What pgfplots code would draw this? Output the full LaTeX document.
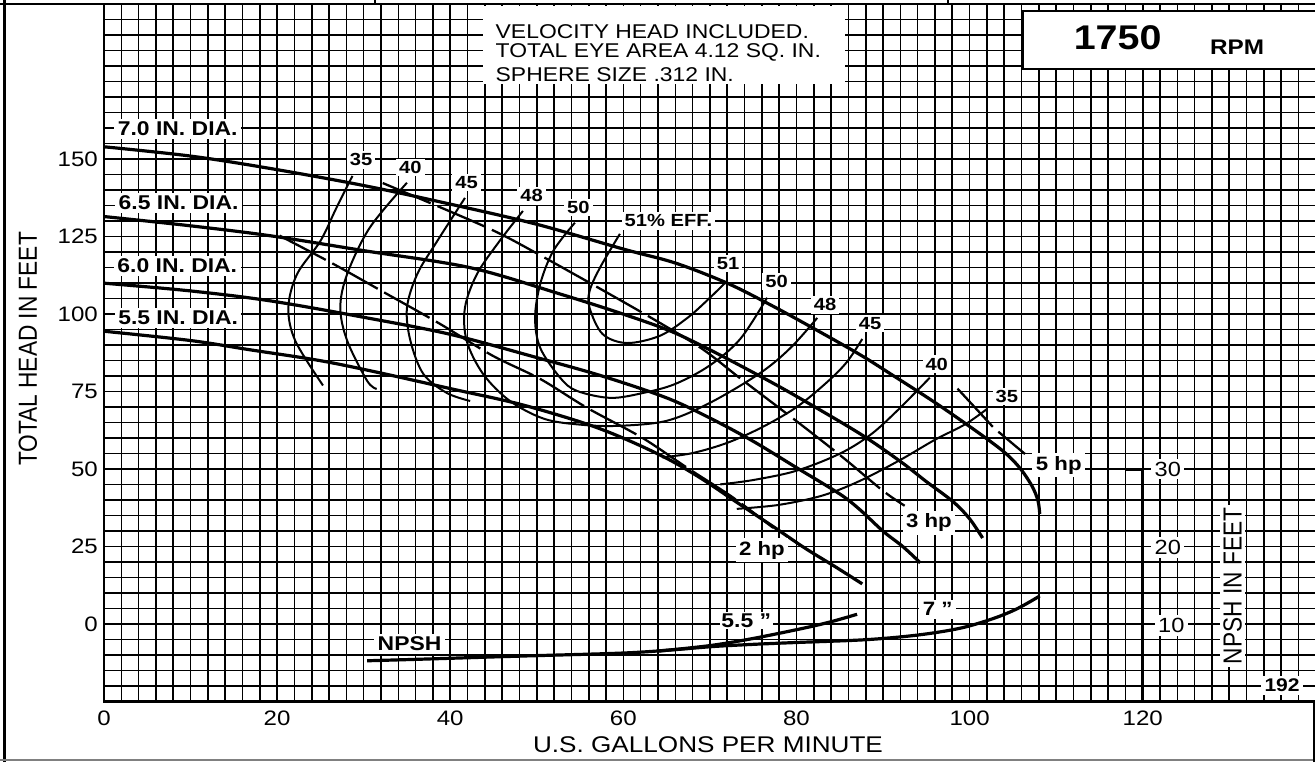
\documentclass[border=0pt]{standalone}
\usepackage{fontspec}
\setmainfont{Liberation Sans}
\usepackage{pgfplots}
\pgfplotsset{compat=1.18}
\tikzset{
  dia/.style={font=\bfseries\fontsize{10}{12}\selectfont, fill=white, inner sep=1.5bp, xscale=1.15},
  ef/.style={font=\bfseries\fontsize{8.8}{10}\selectfont, fill=white, inner sep=1.3bp, xscale=1.15},
  hp/.style={font=\bfseries\fontsize{9.7}{11}\selectfont, fill=white, inner sep=1.5bp, xscale=1.15},
  nt/.style={font=\fontsize{10.3}{12}\selectfont, fill=white, inner sep=1.5bp, xscale=1.15},
  head/.style={line width=1.6bp, smooth, tension=0.55},
  eff/.style={line width=1bp, smooth, tension=0.55},
  hpl/.style={line width=1.15bp, dash pattern=on 26bp off 3.7bp},
}
\begin{document}
\begin{tikzpicture}[x=0.5bp,y=0.5bp]
\useasboundingbox (0,0) rectangle (1315,762);
\begin{axis}[
  at={(52bp,30.15bp)}, anchor=south west,
  scale only axis, width=605.9bp, height=348.75bp,
  xmin=0, xmax=140, ymin=-25, ymax=200,
  xtick={0,20,...,120}, ytick={0,25,...,150},
  minor xtick={0,2,...,140}, minor ytick={-25,-20,...,200},
  grid=both,
  major grid style={black, line width=0.8bp},
  minor grid style={black, line width=0.8bp},
  major tick length=0pt, minor tick length=0pt,
  axis line style={line width=1.2bp},
  /pgf/number format/assume math mode=true,
  ticklabel style={font=\fontsize{10.5}{12}\selectfont, inner sep=0pt, xscale=1.15},
  xticklabel style={anchor=north, yshift=-4.4bp},
  yticklabel style={anchor=east, xshift=-2.5bp},
  clip=false,
]
% ---- head curves (impeller diameters)
\addplot[head] coordinates {(0,154) (10,151) (19.2,147) (30,141.5) (40,135.5) (50,129) (60,121) (66,116.5) (72,110) (77,103) (81.6,96) (87.3,87) (91,80.5) (96,71.5) (100.9,62) (104,55.5) (105.8,50.4) (107.2,44.6) (107.9,39.8) (108.1,35.6)};
\addplot[head] coordinates {(0,131.5) (10,128.5) (19.2,125.3) (30,120.5) (42.3,115) (52.7,106.5) (60,100) (65.4,94.6) (70,88.5) (75.8,80) (80,73.5) (87.3,61.5) (92,52.5) (95,46) (98.1,39.5) (100,34) (101.5,27.8)};
\addplot[head] coordinates {(0,110) (10,107.5) (19.2,104.3) (30,99) (40,93.5) (50,86) (57.6,80) (65,73) (70,66.5) (75,59) (80,50.5) (85,42) (87.3,37) (90,30) (92.3,25) (94.3,19.8)};
\addplot[head] coordinates {(0,94.5) (10,91.5) (16.9,88.5) (25,85) (32,81) (40,76) (48,71) (55.3,65) (60,60) (65,53.5) (69,47) (73,39.5) (77.3,31.5) (81,24.5) (84.5,18.5) (87.6,13)};
% ---- efficiency curves
\addplot[eff] coordinates {(28.7,144.6) (26.8,134) (25,123.6) (22.3,112.9) (21.3,102.1) (22.1,91.4) (25.3,77)};
\addplot[eff] coordinates {(35,142.4) (30.7,127.9) (28.1,113) (27.3,102.1) (28.1,91.4) (30.4,78.5) (31.5,75.9)};
\addplot[eff] coordinates {(41.7,137.5) (38.5,123.6) (36.2,113) (35,102.1) (35.4,91.4) (36.9,80.7) (39.6,74.6) (42.3,72)};
\addplot[eff] coordinates {(48.4,133.3) (45.7,123.6) (43.1,113) (41.7,102.1) (41.9,91.4) (43.8,80.7) (46.9,72) (50.9,66.2) (55.3,64.3) (59.6,64) (65,65.6) (70,71.4) (75.8,81) (79.3,89.1) (82.4,98.8)};
\addplot[eff] coordinates {(54.4,129.5) (51.9,120.4) (50.4,109.8) (49.8,98.8) (50.4,89.1) (52.7,79.5) (54.6,75.3) (58.5,73) (62.3,74.6) (66,77.5) (70,83.5) (73.5,92) (76.6,105.3)};
\addplot[eff] coordinates {(59.6,125.9) (57.3,115) (56.1,107.5) (56.1,102) (57.6,93.6) (60.4,90.7) (64.2,93) (67.4,98.8) (70,105.3) (72,110.8)};
\addplot[eff] coordinates {(64.5,53.8) (68,55.2) (72,58.5) (76,63.5) (80,70) (83.5,78) (85.8,84.5) (87.6,92)};
\addplot[eff] coordinates {(71.2,45.1) (75,46.5) (80,49.5) (85,55) (88.5,61) (91.5,68.5) (95.4,79.5)};
\addplot[eff] coordinates {(73.1,37.2) (78,38.5) (83,41.5) (87.3,46.2) (92,53) (96,59.5) (99.5,64.5) (102,69.4)};
% ---- horsepower lines
\addplot[hpl] coordinates {(98.6,76) (102.8,63.3) (106.4,54.9)};
\addplot[hpl, smooth] coordinates {(32.2,142.3) (44.2,128) (50.4,119) (62.3,100.3) (68.9,89.2) (73.5,79.3) (80,65.5) (85.4,53.7) (90,43) (92.5,38.2)};
\addplot[hpl, smooth] coordinates {(20.3,125.3) (26.5,116.2) (32.7,106.5) (38.8,96.9) (44.9,86.6) (50.4,79.1) (55.8,69.8) (62.2,60.1) (67.4,50.4) (72.7,40.8) (77.3,31.1)};
% ---- NPSH curves (plotted in head units: head = 2.5*(NPSH-10))
\addplot[head] coordinates {(30.4,-11.8) (36.5,-11.3) (48,-10.3) (60,-9.3) (66,-8.2) (70.4,-7.2) (75,-6.5) (80,-5.9) (88,-5) (94,-3.5) (98.9,-1.3) (102.7,1.8) (105.5,5) (108.1,9.1)};
\addplot[head] coordinates {(64,-8.7) (70,-6.9) (75,-4.6) (80.8,-1.3) (84,0.8) (87,3.2)};
% ---- NPSH axis
\addplot[line width=1.5bp] coordinates {(118.1,50) (120,50) (120,-25)};
% ---- labels
\node[dia, anchor=west] at (axis cs:1.15,159.8) {7.0 IN. DIA.};
\node[dia, anchor=west] at (axis cs:1.25,136) {6.5 IN. DIA.};
\node[dia, anchor=west] at (axis cs:1.1,115.6) {6.0 IN. DIA.};
\node[dia, anchor=west] at (axis cs:1.2,98.9) {5.5 IN. DIA.};
\node[ef] at (axis cs:29.7,149.8) {35};
\node[ef] at (axis cs:35.4,147.3) {40};
\node[ef] at (axis cs:41.9,142.5) {45};
\node[ef] at (axis cs:49.4,138.2) {48};
\node[ef] at (axis cs:54.8,134.4) {50};
\node[ef] at (axis cs:65.2,130.1) {51\% EFF.};
\node[ef] at (axis cs:72.1,116.3) {51};
\node[ef] at (axis cs:77.7,110.5) {50};
\node[ef] at (axis cs:83.3,103) {48};
\node[ef] at (axis cs:88.5,97) {45};
\node[ef] at (axis cs:96.2,83.9) {40};
\node[ef] at (axis cs:104.3,73.4) {35};
\node[hp] at (axis cs:110.3,51.3) {5 hp};
\node[hp] at (axis cs:95.3,32.8) {3 hp};
\node[hp] at (axis cs:76,23.9) {2 hp};
\node[dia] at (axis cs:35.3,-6.3) {NPSH};
\node[dia, inner sep=0.8bp] at (axis cs:74.2,1.2) {5.5 "};
\node[hp] at (axis cs:96.3,4.8) {7 "};
\node[nt] at (axis cs:122.9,50) {30};
\node[nt] at (axis cs:122.9,24.7) {20};
\node[nt] at (axis cs:123.3,-0.5) {10};
\node[font=\fontsize{11.4}{13}\selectfont, fill=white, inner sep=1.5bp, rotate=90, yscale=1.15] at (axis cs:130.4,12.4) {NPSH IN FEET};
\node[font=\bfseries\fontsize{9.2}{11}\selectfont, fill=white, inner sep=1.5bp, xscale=1.15] at (axis cs:136.1,-19.8) {192};
% ---- top boxes
\fill[white] (axis cs:43.8,174.1) rectangle (axis cs:85.6,199.4);
\node[font=\fontsize{10}{12}\selectfont, anchor=west, inner sep=0pt, xscale=1.15] at (axis cs:45.2,191.2) {VELOCITY HEAD INCLUDED.};
\node[font=\fontsize{10}{12}\selectfont, anchor=west, inner sep=0pt, xscale=1.15] at (axis cs:45.2,184.4) {TOTAL EYE AREA 4.12 SQ. IN.};
\node[font=\fontsize{10}{12}\selectfont, anchor=west, inner sep=0pt, xscale=1.15] at (axis cs:45.2,177.2) {SPHERE SIZE .312 IN.};
\draw[fill=white, line width=1.2bp] (axis cs:106.2,179.1) rectangle (axis cs:140,197.8);
\node[font=\bfseries\fontsize{17.2}{19}\selectfont, inner sep=0pt, xscale=1.15] at (axis cs:117.1,189.1) {1750};
\node[font=\bfseries\fontsize{10.6}{12}\selectfont, inner sep=0pt, xscale=1.15] at (axis cs:130.9,186.2) {RPM};
\end{axis}
% ---- axis titles and frame (picture coordinates, 1 unit = 1 px)
\node[font=\fontsize{11.4}{13}\selectfont, rotate=90, yscale=1.15] at (28,413) {TOTAL HEAD IN FEET};
\node[font=\fontsize{11.4}{13}\selectfont, xscale=1.15] at (708,17) {U.S. GALLONS PER MINUTE};
\draw[line width=1.5bp] (4,0) -- (4,762);
\draw[line width=1.2bp] (0,758) -- (1315,758);
\draw[line width=1bp] (375,758) -- (375,762);
\draw[line width=1bp] (948,758) -- (948,762);
\draw[line width=0.6bp, gray] (0,2) -- (1315,2);
\draw[line width=0.8bp] (1314,0) -- (1314,60.3);
\end{tikzpicture}
\end{document}
